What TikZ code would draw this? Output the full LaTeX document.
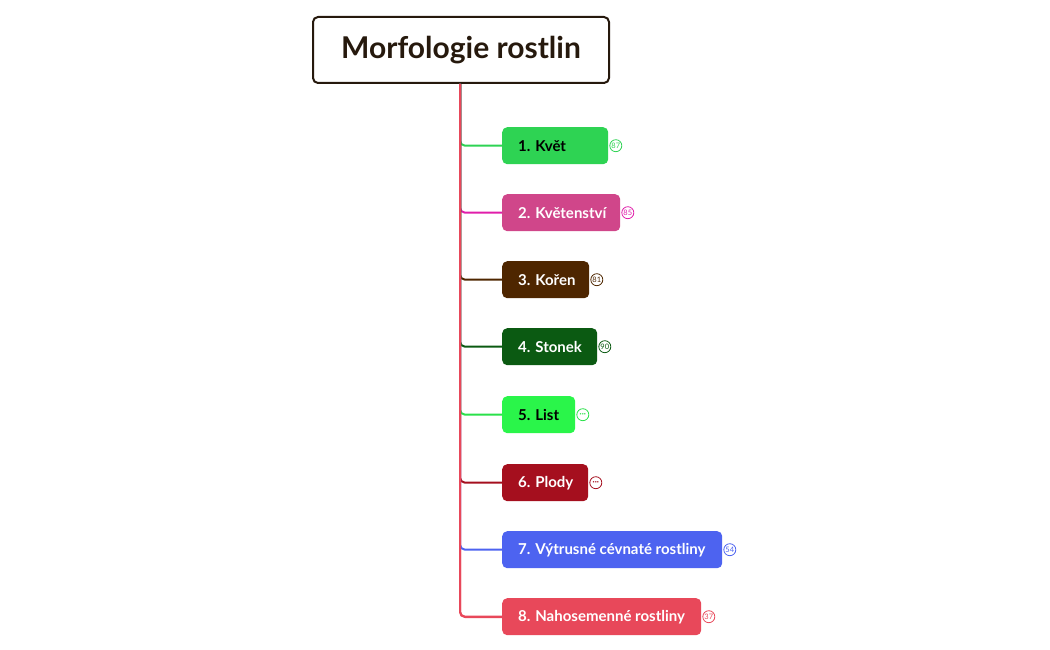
\documentclass[tikz,border=0pt]{standalone}
\usepackage{fontspec}
\setmainfont{Lato}
\begin{document}
\begin{tikzpicture}[x=1pt,y=-1pt,
  topic/.style={rounded corners=5pt,inner sep=0pt,anchor=north west,font=\bfseries\fontsize{15}{18}\selectfont},
  cnt/.style={circle,draw,fill=white,inner sep=0pt,minimum size=12pt,line width=0.8pt,font=\fontsize{7.5}{8}\selectfont},
  br/.style={line width=2pt,rounded corners=5pt}]
\useasboundingbox (0,0) rectangle (1050,650);
\node[draw=black!80!brown,line width=2pt,rounded corners=5pt,minimum width=296pt,minimum height=66pt,inner sep=0pt,anchor=north west,font=\bfseries\fontsize{30}{34}\selectfont,text=black!80!brown] (root) at (312,16) {Morfologie rostlin};
\coordinate (top) at (460,84);
\def\item#1#2#3#4#5#6#7#8{%
 \node[topic,fill=#4,minimum width=#3pt,minimum height=37pt] (n#1) at (502,#2) {};
 \node[anchor=west,inner sep=0pt,text=#5,font=\bfseries\fontsize{15}{18}\selectfont] at ([xshift=16pt]n#1.west) {#6};
 \node[cnt,draw=#7,text=#7,anchor=west] (c#1) at ([xshift=1pt]n#1.east) {#8};
 \draw[br,draw=#7] (top) |- (n#1.west);}
\draw[br,draw={rgb,255:red,232;green,72;blue,90}] (top) |- (502,617);
\item{1}{127}{106}{{rgb,255:red,46;green,211;blue,83}}{black}{1. Květ}{{rgb,255:red,46;green,211;blue,83}}{87}
\item{2}{194}{118}{{rgb,255:red,208;green,70;blue,138}}{white}{2. Květenství}{{rgb,255:red,224;green,30;blue,170}}{85}
\item{3}{261}{87}{{rgb,255:red,78;green,38;blue,0}}{white}{3. Kořen}{{rgb,255:red,78;green,38;blue,0}}{81}
\item{4}{328}{95}{{rgb,255:red,11;green,90;blue,18}}{white}{4. Stonek}{{rgb,255:red,11;green,90;blue,18}}{90}
\item{5}{396}{73}{{rgb,255:red,42;green,245;blue,74}}{black}{5. List}{{rgb,255:red,42;green,225;blue,74}}{\bfseries ···}
\item{6}{464}{86}{{rgb,255:red,165;green,15;blue,30}}{white}{6. Plody}{{rgb,255:red,165;green,15;blue,30}}{\bfseries ···}
\item{7}{531}{220}{{rgb,255:red,77;green,99;blue,240}}{white}{7. Výtrusné cévnaté rostliny}{{rgb,255:red,77;green,99;blue,240}}{54}
\item{8}{598}{199}{{rgb,255:red,232;green,72;blue,90}}{white}{8. Nahosemenné rostliny}{{rgb,255:red,232;green,72;blue,90}}{37}
\end{tikzpicture}
\end{document}
